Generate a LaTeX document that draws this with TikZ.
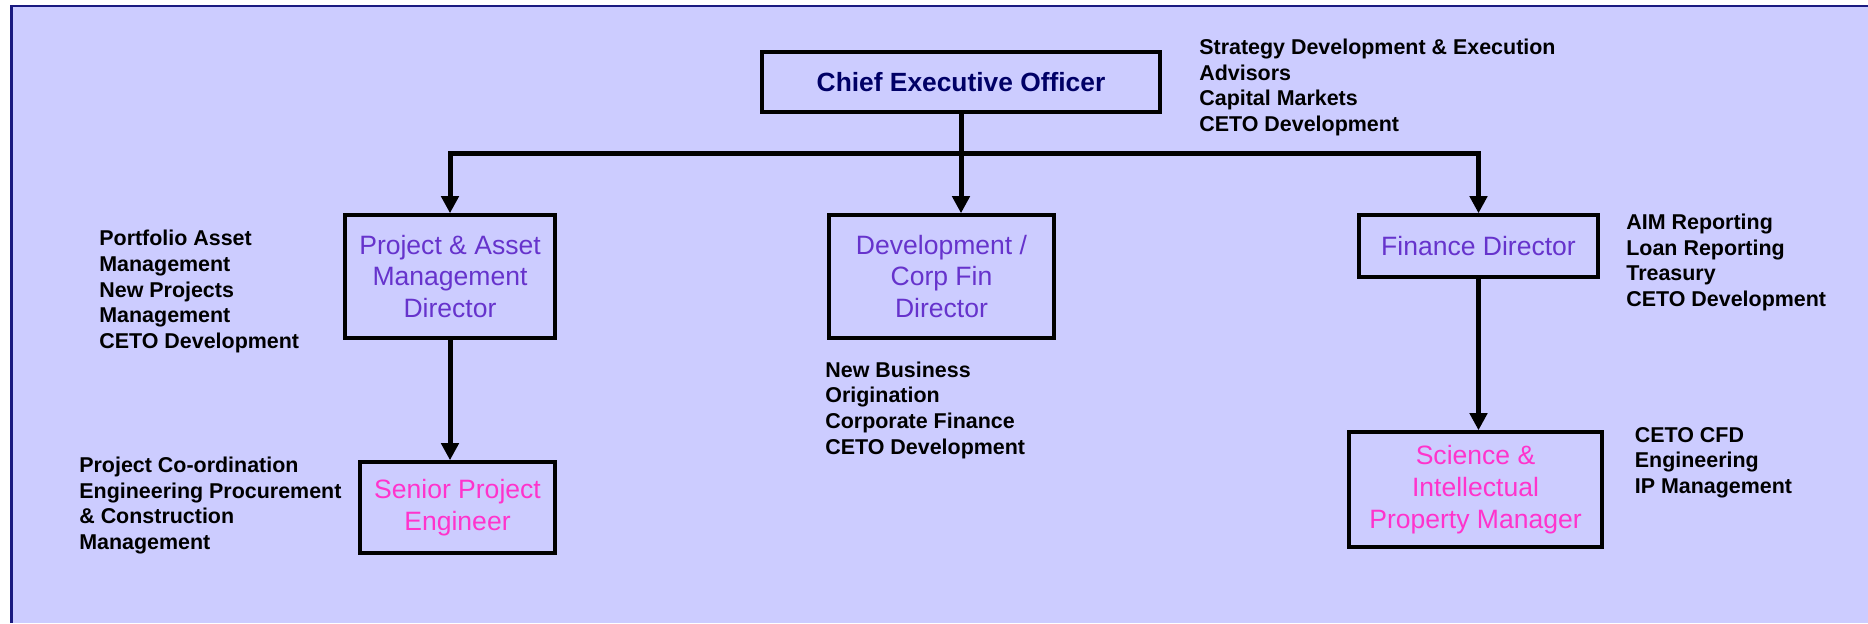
\documentclass[tikz,border=0pt]{standalone}
\usepackage{fontspec}
\setmainfont{Liberation Sans}
\usepackage{tikz}
\usetikzlibrary{arrows.meta, positioning}

\definecolor{panelfill}{HTML}{CCCCFF}
\definecolor{panelline}{HTML}{1A1A80}
\definecolor{ceotext}{HTML}{000066}
\definecolor{dirtext}{HTML}{6633CC}
\definecolor{mgrtext}{HTML}{FF33CC}

\begin{document}
\begin{tikzpicture}[
    every node/.style={font=\fontsize{12.2}{14.6}\selectfont},
    orgbox/.style={rectangle, draw, line width=2pt, align=center, inner sep=2pt, font=\fontsize{15.1}{18.2}\selectfont},
    notes/.style={anchor=west, align=left, inner sep=0pt, font=\fontsize{12.2}{14.6}\selectfont\bfseries},
    arr/.style={-{Triangle[length=9.7pt, width=9.7pt]}, line width=2.85pt}
]

% Panel
\useasboundingbox (0,0) rectangle (37.36,-12.46);
\fill[white] (0,0) rectangle (37.36,-12.46);
\fill[panelfill] (0.2,-0.1) rectangle (37.36,-12.46);
\draw[panelline, line width=1.4pt] (0.226,-12.46) |- (37.36,-0.124);

% Top level
\node[orgbox, minimum width=7.96cm, minimum height=1.2cm, text=ceotext, font=\fontsize{15}{18}\selectfont\bfseries] (ceo) at (19.22,-1.64) {Chief Executive Officer};
\node[notes] (ceonotes) at (23.98,-1.75) {Strategy Development \& Execution\\Advisors\\Capital Markets\\CETO Development};

% Directors
\node[orgbox, minimum width=4.2cm, minimum height=2.46cm, text=dirtext] (pam) at (9.0,-5.53) {Project \& Asset\\Management\\Director};
\node[orgbox, minimum width=4.5cm, minimum height=2.46cm, text=dirtext] (dev) at (18.83,-5.53) {Development /\\Corp Fin\\Director};
\node[orgbox, minimum width=4.78cm, minimum height=1.24cm, text=dirtext] (fin) at (29.57,-4.92) {Finance Director};

\node[notes] (pamnotes) at (1.98,-5.83) {Portfolio Asset\\Management\\New Projects\\Management\\CETO Development};
\node[notes] (devnotes) at (16.5,-8.2) {New Business\\Origination\\Corporate Finance\\CETO Development};
\node[notes] (finnotes) at (32.52,-5.25) {AIM Reporting\\Loan Reporting\\Treasury\\CETO Development};

% Managers
\node[orgbox, minimum width=3.9cm, minimum height=1.82cm, text=mgrtext] (spe) at (9.15,-10.15) {Senior Project\\Engineer};
\node[orgbox, minimum width=5.06cm, minimum height=2.3cm, text=mgrtext] (sip) at (29.51,-9.79) {Science \&\\Intellectual\\Property Manager};

\node[notes] (spenotes) at (1.58,-10.11) {Project Co-ordination\\Engineering Procurement\\\& Construction\\Management};
\node[notes] (sipnotes) at (32.69,-9.25) {CETO CFD\\Engineering\\IP Management};

% Reporting lines
\coordinate (bus) at ([yshift=-0.8cm]ceo.south);
\draw[arr] (ceo.south) -- (ceo.south |- dev.north);
\draw[arr] (bus) -| (pam.north);
\draw[arr] (bus) -| (fin.north);
\draw[arr] (pam.south) -- (pam.south |- spe.north);
\draw[arr] (fin.south) -- (fin.south |- sip.north);

\end{tikzpicture}
\end{document}
